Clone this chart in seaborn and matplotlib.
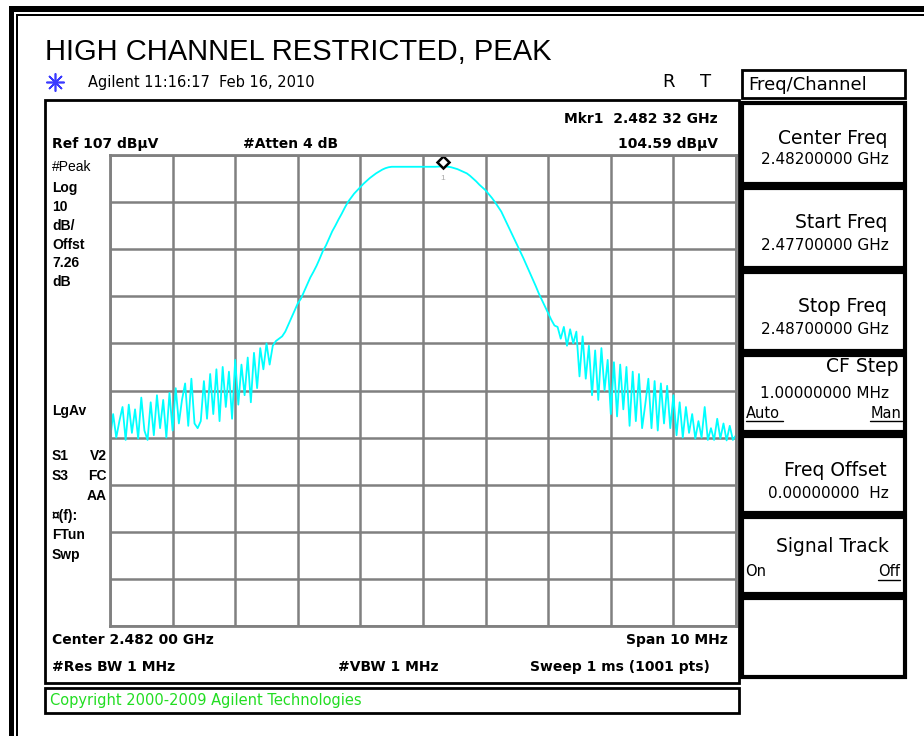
import matplotlib
matplotlib.use("Agg")
import matplotlib.pyplot as plt
from matplotlib.patches import Rectangle
import numpy as np
import seaborn as sns

# sweep: 2.477 GHz .. 2.487 GHz, levels read every 0.05 MHz (dBuV)
start_ghz = 2.477
stop_ghz = 2.487
ref_level = 107
db_per_div = 10

left_noise = [46.5, 52.0, 47.0, 50.5, 53.5, 46.5, 54.0, 48.0, 53.0, 46.8,
              55.5, 48.5, 46.5, 54.5, 47.5, 56.0, 49.0, 55.0, 47.0, 56.5,
              48.5, 57.5, 50.0, 55.0, 58.5, 49.5, 59.5, 50.0, 49.0, 50.5,
              59.0, 51.0, 60.5, 52.0, 61.5, 50.5, 62.0, 53.5, 61.0, 51.0,
              63.5, 54.0, 62.5, 56.0, 64.0, 54.5, 65.0, 57.5, 66.0, 61.5,
              67.0, 62.5, 66.5, 67.5, 68.0, 68.5, 69.5, 71.0, 72.5, 74.0]
rise = [75.5, 76.5, 78.0, 79.5, 81.0, 82.2, 83.5, 85.0, 86.6, 87.8,
        89.3, 90.8, 92.0, 93.3, 94.5, 95.8, 97.0, 97.9, 98.8, 99.5,
        100.2, 100.9, 101.5, 102.1, 102.6, 103.1, 103.5, 103.9, 104.2, 104.4,
        104.5]
top = [104.5, 104.5, 104.5, 104.5, 104.5, 104.5, 104.5, 104.5, 104.5, 104.5,
       104.5, 104.5, 104.5, 104.5, 104.55, 104.59, 104.55]
fall = [104.5, 104.4, 104.2, 104.0, 103.7, 103.4, 103.1, 102.6, 102.0, 101.4,
        100.7, 100.1, 99.5, 98.7, 97.9, 97.0, 96.0, 95.0, 93.6, 92.2,
        90.8, 89.4, 88.0, 86.6, 85.2, 83.7, 82.2, 80.7, 79.2, 77.6,
        76.2, 74.8]
right_noise = [73.4, 72.0, 70.8, 70.5, 68.0, 70.5, 66.5, 70.0, 67.0, 69.5,
               60.0, 68.5, 59.5, 66.5, 56.0, 65.5, 55.0, 66.0, 57.0, 63.5,
               52.0, 63.0, 51.5, 62.5, 53.0, 62.0, 49.5, 61.0, 50.5, 60.5,
               49.0, 54.0, 59.5, 49.0, 59.0, 48.5, 58.5, 50.0, 58.0, 49.0,
               56.0, 47.5, 54.5, 47.0, 53.5, 48.0, 52.0, 46.8, 50.5, 47.0,
               53.5, 46.5, 49.0, 46.5, 51.0, 46.8, 50.0, 46.4, 49.5, 46.5,
               47.5]

levels = left_noise + rise + top + fall + right_noise
freq = np.linspace(start_ghz, stop_ghz, len(levels))

mkr_freq = 2.48232
mkr_level = 104.59

left_labels = [("#Peak", 167, False), ("Log", 188, True), ("10", 207, True),
               ("dB/", 226, True), ("Offst", 245, True), ("7.26", 263, True),
               ("dB", 282, True), ("LgAv", 411, True), ("S1", 456, True),
               ("S3", 476, True), ("¤(f):", 516, True), ("FTun", 535, True),
               ("Swp", 555, True)]
right_labels = [("V2", 456), ("FC", 476), ("AA", 496)]

softkeys = [("Center Freq", "2.48200000 GHz", 103, 184),
            ("Start Freq", "2.47700000 GHz", 188, 268),
            ("Stop Freq", "2.48700000 GHz", 272, 351),
            ("CF Step", "1.00000000 MHz", 355, 432),
            ("Freq Offset", "0.00000000  Hz", 436, 513),
            ("Signal Track", "", 517, 594),
            ("", "", 598, 677)]

sns.set_theme(style="white")
plt.rcParams["font.family"] = ["Liberation Sans", "DejaVu Sans"]
plt.rcParams["text.color"] = "black"
wide = ["DejaVu Sans"]

fig = plt.figure(figsize=(9.24, 7.36), dpi=100)
bg = fig.add_axes([0, 0, 1, 1])
bg.set_xlim(0, 924)
bg.set_ylim(736, 0)
bg.axis("off")

def box(x0, y0, x1, y1, lw=2, ec="black"):
    bg.add_patch(Rectangle((x0, y0), x1 - x0, y1 - y0, fill=False, ec=ec, lw=lw))

def btext(x, y, s, ha="left"):
    bg.text(x, y, s, fontsize=10, fontweight="bold", family=wide, va="center", ha=ha)

# outer frame
bg.add_patch(Rectangle((9, 6), 924, 6, color="black", lw=0))
bg.add_patch(Rectangle((9, 6), 5, 736, color="black", lw=0))
bg.add_patch(Rectangle((16, 14), 924, 2, color="black", lw=0))
bg.add_patch(Rectangle((16, 14), 2, 736, color="black", lw=0))

bg.text(45, 52, "HIGH CHANNEL RESTRICTED, PEAK", fontsize=21, va="center")
bg.plot([55], [82], marker=(8, 2, 0), color="#3a3aff", ms=13, mew=1.2, ls="none")
bg.text(88, 82, "Agilent 11:16:17  Feb 16, 2010", fontsize=10.5, family=wide, va="center")
bg.text(668, 82, "R", fontsize=13, family=wide, va="center", ha="center")
bg.text(706, 82, "T", fontsize=13, family=wide, va="center", ha="center")

# screen frame and annotations
box(45, 100, 739, 683)
btext(718, 119, "Mkr1  2.482 32 GHz", ha="right")
btext(52, 144, "Ref 107 dBµV")
btext(243, 144, "#Atten 4 dB")
btext(718, 144, "104.59 dBµV", ha="right")
for s, y, bold in left_labels:
    bg.text(52, y, s, fontsize=10, fontweight="bold" if bold else "normal", va="center")
for s, y in right_labels:
    bg.text(107, y, s, fontsize=10, fontweight="bold", va="center", ha="right")
btext(52, 640, "Center 2.482 00 GHz")
btext(728, 640, "Span 10 MHz", ha="right")
btext(52, 667, "#Res BW 1 MHz")
btext(338, 667, "#VBW 1 MHz")
btext(710, 667, "Sweep 1 ms (1001 pts)", ha="right")

box(45, 688, 739, 713)
bg.text(50, 701, "Copyright 2000-2009 Agilent Technologies", fontsize=10.5, family=wide,
        color="#22dd22", va="center")

# softkey panel
box(742, 70, 905, 98, lw=2)
bg.text(748, 85, "Freq/Channel", fontsize=13, family=wide, va="center")
for label, value, y0, y1 in softkeys:
    box(742, y0, 905, y1, lw=3)
    if label == "CF Step":
        bg.text(899, y0 + 12, label, fontsize=13.5, family=wide, va="center", ha="right")
        bg.text(889, y0 + 39, value, fontsize=11, family=wide, va="center", ha="right")
        bg.text(746, y0 + 58, "Auto", fontsize=10.5, family=wide, va="center")
        bg.plot([746, 783], [y0 + 66, y0 + 66], color="black", lw=1)
        bg.text(902, y0 + 58, "Man", fontsize=10.5, family=wide, va="center", ha="right")
        bg.plot([870, 902], [y0 + 66, y0 + 66], color="black", lw=1)
    elif label == "Signal Track":
        bg.text(889, y0 + 30, label, fontsize=13.5, family=wide, va="center", ha="right")
        bg.text(745, y0 + 55, "On", fontsize=10.5, family=wide, va="center")
        bg.text(900, y0 + 55, "Off", fontsize=10.5, family=wide, va="center", ha="right")
        bg.plot([878, 900], [y0 + 63, y0 + 63], color="black", lw=1)
    elif label:
        bg.text(887, y0 + 35, label, fontsize=13.5, family=wide, va="center", ha="right")
        bg.text(889, y0 + 57, value, fontsize=11, family=wide, va="center", ha="right")

# trace graticule
W, H = 924, 736
gx0, gx1, gy0, gy1 = 110, 736, 155, 626
ax = fig.add_axes([gx0 / W, 1 - gy1 / H, (gx1 - gx0) / W, (gy1 - gy0) / H])
ax.set_facecolor("white")
sns.lineplot(x=freq, y=levels, ax=ax, color="#00ffff", lw=1.3, estimator=None, sort=False)
ax.plot([mkr_freq], [mkr_level + 1.0], marker="D", mfc="white", mec="black", ms=6.5,
        mew=1.8, ls="none", clip_on=False)
ax.text(mkr_freq, mkr_level - 2.6, "1", fontsize=6, color="#aaaaaa", ha="center", va="center")
ax.set_xlim(start_ghz, stop_ghz)
ax.set_ylim(ref_level - 10 * db_per_div, ref_level)
ax.set_xticks(np.linspace(start_ghz, stop_ghz, 11))
ax.set_yticks(np.linspace(ref_level - 10 * db_per_div, ref_level, 11))
ax.set_xticklabels([])
ax.set_yticklabels([])
ax.tick_params(length=0)
ax.grid(True, color="#808080", lw=1.8)
ax.set_axisbelow(True)
for sp in ax.spines.values():
    sp.set_color("#808080")
    sp.set_linewidth(2)
ax.set_xlabel("")
ax.set_ylabel("")

fig.savefig("out.png", dpi=100)
